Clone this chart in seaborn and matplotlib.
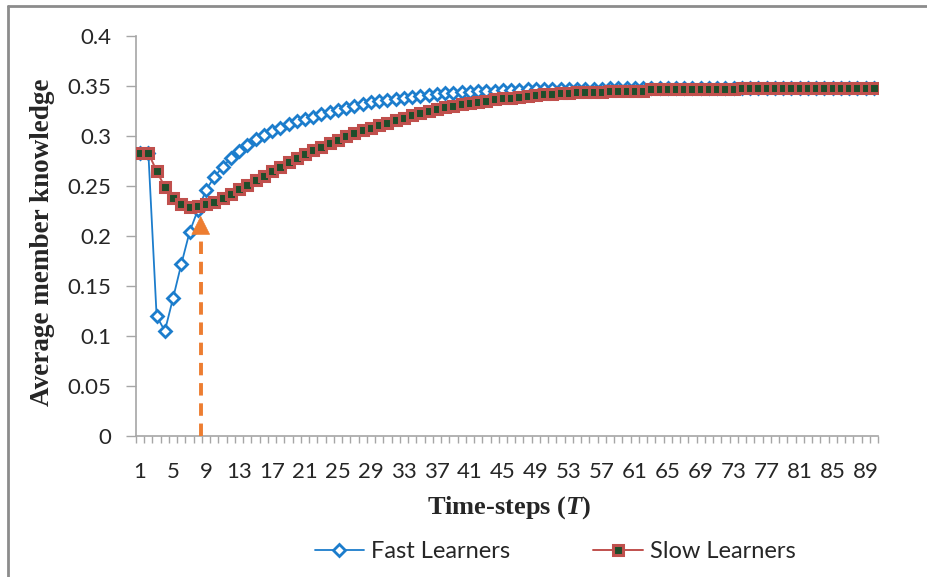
import numpy as np
import pandas as pd
import matplotlib
matplotlib.use("Agg")
import matplotlib.pyplot as plt
from matplotlib.lines import Line2D
import seaborn as sns

# ---- data ----
time_steps = list(range(1, 91))

fast_learners = [
    0.283, 0.283, 0.120, 0.105, 0.138, 0.172, 0.204, 0.226, 0.246, 0.259,
    0.269, 0.278, 0.285, 0.291, 0.297, 0.301, 0.305, 0.308, 0.312, 0.315,
    0.317, 0.319, 0.322, 0.324, 0.326, 0.328, 0.330, 0.332, 0.334, 0.335,
    0.336, 0.337, 0.338, 0.339, 0.340, 0.341, 0.342, 0.343, 0.343, 0.344,
    0.344, 0.345, 0.345, 0.345, 0.346, 0.346, 0.346, 0.347, 0.347, 0.347,
    0.347, 0.347, 0.347, 0.347, 0.347, 0.347, 0.347, 0.348, 0.348, 0.348,
    0.348, 0.348, 0.348, 0.348, 0.348, 0.348, 0.348, 0.348, 0.348, 0.348,
    0.348, 0.348, 0.348, 0.348, 0.348, 0.348, 0.348, 0.348, 0.348, 0.348,
    0.348, 0.348, 0.348, 0.348, 0.348, 0.348, 0.348, 0.348, 0.348, 0.348,
]

slow_learners = [
    0.283, 0.283, 0.265, 0.249, 0.238, 0.232, 0.229, 0.230, 0.232, 0.234,
    0.238, 0.242, 0.247, 0.251, 0.256, 0.260, 0.265, 0.269, 0.274, 0.278,
    0.282, 0.286, 0.289, 0.293, 0.296, 0.300, 0.303, 0.306, 0.308, 0.311,
    0.313, 0.316, 0.318, 0.321, 0.323, 0.325, 0.327, 0.329, 0.330, 0.332,
    0.333, 0.334, 0.335, 0.337, 0.338, 0.338, 0.339, 0.340, 0.341, 0.342,
    0.342, 0.343, 0.343, 0.344, 0.344, 0.344, 0.344, 0.345, 0.345, 0.345,
    0.345, 0.345, 0.347, 0.347, 0.347, 0.347, 0.347, 0.347, 0.347, 0.347,
    0.347, 0.347, 0.347, 0.348, 0.348, 0.348, 0.348, 0.348, 0.348, 0.348,
    0.348, 0.348, 0.348, 0.348, 0.348, 0.348, 0.348, 0.348, 0.348, 0.348,
]

y_ticks = [0, 0.05, 0.1, 0.15, 0.2, 0.25, 0.3, 0.35, 0.4]
y_tick_labels = ["0", "0.05", "0.1", "0.15", "0.2", "0.25", "0.3", "0.35", "0.4"]
x_tick_labels = list(range(1, 90, 4))

# orange annotation arrow pointing at the slow learners' minimum
arrow_x = 8.35
arrow_top = 0.223

df = pd.DataFrame({"T": time_steps, "Fast Learners": fast_learners,
                   "Slow Learners": slow_learners})

# ---- styling ----
sns.set_style("white")
plt.rcParams["font.family"] = ["Lato", "DejaVu Sans"]
plt.rcParams["mathtext.fontset"] = "custom"
plt.rcParams["mathtext.it"] = "Liberation Serif:italic:bold"
plt.rcParams["mathtext.rm"] = "Liberation Serif:bold"

fast_color = "#1C7DCC"
slow_color = "#C0504D"
slow_face = "#1E4D2B"
axis_gray = "#A6A6A6"

fig = plt.figure(figsize=(9.28, 5.77), dpi=100)
ax = fig.add_axes([136 / 928, 1 - 436 / 577, (878 - 136) / 928, 400 / 577])

sns.lineplot(data=df, x="T", y="Slow Learners", ax=ax, color=slow_color,
             linewidth=1.4, marker="s", markersize=7.5, markerfacecolor=slow_face,
             markeredgecolor=slow_color, markeredgewidth=2.2, zorder=3)
sns.lineplot(data=df, x="T", y="Fast Learners", ax=ax, color=fast_color,
             linewidth=1.3, marker="D", markersize=5.8, markerfacecolor="white",
             markeredgecolor=fast_color, markeredgewidth=2.0, zorder=2)

# dashed arrow
ax.plot([arrow_x, arrow_x], [0, arrow_top - 0.012], color="#ED7D31",
        linestyle=(0, (3.2, 2)), linewidth=2.8, zorder=4)
ax.annotate("", xy=(arrow_x, arrow_top), xytext=(arrow_x, arrow_top - 0.016),
            arrowprops=dict(arrowstyle="-|>", color="#ED7D31", lw=0.5,
                            mutation_scale=32), zorder=5)

# axes
ax.set_xlim(0.5, 90.5)
ax.set_ylim(0, 0.4)
ax.set_xticks(x_tick_labels)
ax.set_xticklabels([str(v) for v in x_tick_labels], fontsize=16)
ax.set_xticks(np.arange(0.5, 91, 1), minor=True)
ax.tick_params(axis="x", which="major", length=0, pad=19)
ax.tick_params(axis="x", which="minor", length=5, width=1, color=axis_gray,
               direction="out", bottom=True)
ax.set_yticks(y_ticks)
ax.set_yticklabels(y_tick_labels, fontsize=16)
ax.tick_params(axis="y", length=7, width=1, color=axis_gray, direction="out",
               left=True, pad=11)

for side in ["top", "right"]:
    ax.spines[side].set_visible(False)
for side in ["left", "bottom"]:
    ax.spines[side].set_color(axis_gray)
    ax.spines[side].set_linewidth(1.2)

ax.set_xlabel("Time-steps ($T$)", family="Liberation Serif",
              fontweight="bold", fontsize=19)
ax.xaxis.set_label_coords(0.503, -0.18)
ax.xaxis.label.set_va("center")
ax.set_ylabel("Average member knowledge", family="Liberation Serif",
              fontweight="bold", fontsize=19.5)
ax.yaxis.set_label_coords(-0.126, 0.485)
ax.yaxis.label.set_va("center")

# legend below
handles = [
    Line2D([], [], color=fast_color, lw=1.3, marker="D", markersize=5.8,
           markerfacecolor="white", markeredgecolor=fast_color, markeredgewidth=2.0),
    Line2D([], [], color=slow_color, lw=1.4, marker="s", markersize=7.5,
           markerfacecolor=slow_face, markeredgecolor=slow_color, markeredgewidth=2.2),
]
fig.legend(handles, ["Fast Learners", "Slow Learners"], loc="center",
           bbox_to_anchor=(0.598, 1 - 552 / 577), ncol=2, frameon=False,
           fontsize=17, handlelength=2.1, columnspacing=3.5, handletextpad=0.3)

# chart-area border (top and left visible)
fig.add_artist(Line2D([8 / 928, 1], [1 - 6 / 577, 1 - 6 / 577],
                      transform=fig.transFigure, color="#8C8C8C", lw=2))
fig.add_artist(Line2D([8 / 928, 8 / 928], [0, 1 - 6 / 577],
                      transform=fig.transFigure, color="#8C8C8C", lw=2))

fig.savefig("out.png", dpi=100)
